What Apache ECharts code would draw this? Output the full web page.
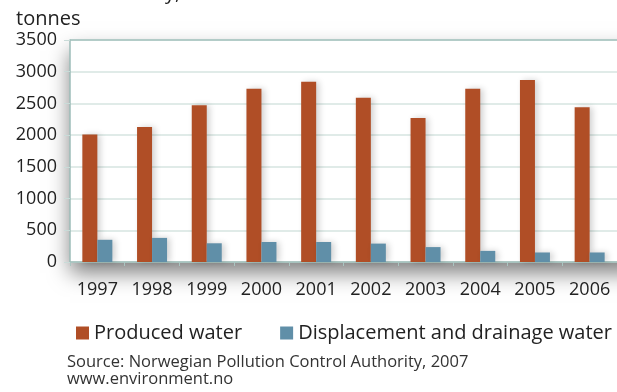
<!DOCTYPE html>
<html>
<head>
<meta charset="utf-8">
<title>Produced water and displacement and drainage water</title>
<script src="https://cdn.jsdelivr.net/npm/echarts@6/dist/echarts.min.js"></script>
<style>
  html, body { margin: 0; padding: 0; background: #ffffff; }
  #chart { width: 617px; height: 392px; }
</style>
</head>
<body>
<div id="chart"></div>
<script>
// Discharges by year, in tonnes
const years = ['1997', '1998', '1999', '2000', '2001', '2002', '2003', '2004', '2005', '2006'];
const producedWater = [2010, 2130, 2470, 2730, 2840, 2590, 2270, 2730, 2870, 2440];
const displacementWater = [350, 380, 295, 315, 315, 290, 235, 175, 150, 150];
const yTicks = { min: 0, max: 3500, step: 500 };

const FONT = '"Open Sans", "Noto Sans", sans-serif';
const ORANGE = '#b04e26';
const BLUE = '#608fa8';

const chart = echarts.init(document.getElementById('chart'), null, { renderer: 'canvas' });

const barShadow = {
  shadowBlur: 6,
  shadowOffsetX: 3,
  shadowOffsetY: 0,
  shadowColor: 'rgba(0,0,0,0.18)'
};

chart.setOption({
  animation: false,
  backgroundColor: '#ffffff',
  textStyle: { fontFamily: FONT },
  title: {
    text: 'tonnes',
    left: 11,
    top: 4,
    textStyle: { fontFamily: FONT, fontSize: 20, fontWeight: 'normal', color: '#222222' }
  },
  grid: {
    left: 70,
    right: 0,
    top: 40,
    bottom: 130
  },
  legend: {
    left: 71,
    top: 318,
    itemWidth: 13,
    itemHeight: 13,
    itemGap: 38,
    icon: 'rect',
    textStyle: { fontFamily: FONT, fontSize: 20, color: '#222222' },
    data: ['Produced water', 'Displacement and drainage water']
  },
  xAxis: {
    type: 'category',
    data: years,
    axisLine: { show: true, lineStyle: { color: '#9dbdb8', width: 1.5 } },
    axisTick: { show: true, length: 4, lineStyle: { color: '#aac5c1' } },
    axisLabel: { fontFamily: FONT, fontSize: 18, color: '#222222', margin: 19, interval: 0 }
  },
  yAxis: {
    type: 'value',
    min: yTicks.min,
    max: yTicks.max,
    interval: yTicks.step,
    axisLine: { show: true, lineStyle: { color: '#9dbdb8', width: 1.5 } },
    axisTick: { show: true, length: 6, lineStyle: { color: '#c9dbd8' } },
    splitLine: { show: true, lineStyle: { color: '#d6e4e1', width: 1.5 } },
    axisLabel: {
      fontFamily: FONT, fontSize: 18, color: '#222222', margin: 13,
      formatter: function (v) { return String(v); }
    }
  },
  graphic: [
    {
      // white plot box casting a soft drop shadow
      type: 'rect',
      shape: { x: 70, y: 40, width: 570, height: 222 },
      style: {
        fill: '#ffffff',
        shadowBlur: 20,
        shadowOffsetY: 11,
        shadowColor: 'rgba(0,0,0,0.5)'
      },
      z: -10,
      silent: true
    },
    {
      // top border of the plot box
      type: 'line',
      shape: { x1: 70, y1: 40, x2: 617, y2: 40 },
      style: { stroke: '#a4c2be', lineWidth: 1.5 },
      z: 5
    },
    {
      // tail of the heading line above
      type: 'text',
      left: 165,
      top: -17,
      style: { text: 'y,', fontFamily: FONT, fontSize: 20, fill: '#222222' }
    },
    {
      type: 'text',
      left: 67,
      top: 354,
      style: {
        text: 'Source: Norwegian Pollution Control Authority, 2007\nwww.environment.no',
        fontFamily: FONT,
        fontSize: 16.5,
        lineHeight: 17,
        fill: '#333333'
      }
    }
  ],
  series: [
    {
      name: 'Produced water',
      type: 'bar',
      data: producedWater,
      barWidth: 15,
      barGap: '0%',
      itemStyle: Object.assign({ color: ORANGE }, barShadow)
    },
    {
      name: 'Displacement and drainage water',
      type: 'bar',
      data: displacementWater,
      barWidth: 15,
      barGap: '0%',
      itemStyle: Object.assign({ color: BLUE }, barShadow)
    }
  ]
});
</script>
</body>
</html>
